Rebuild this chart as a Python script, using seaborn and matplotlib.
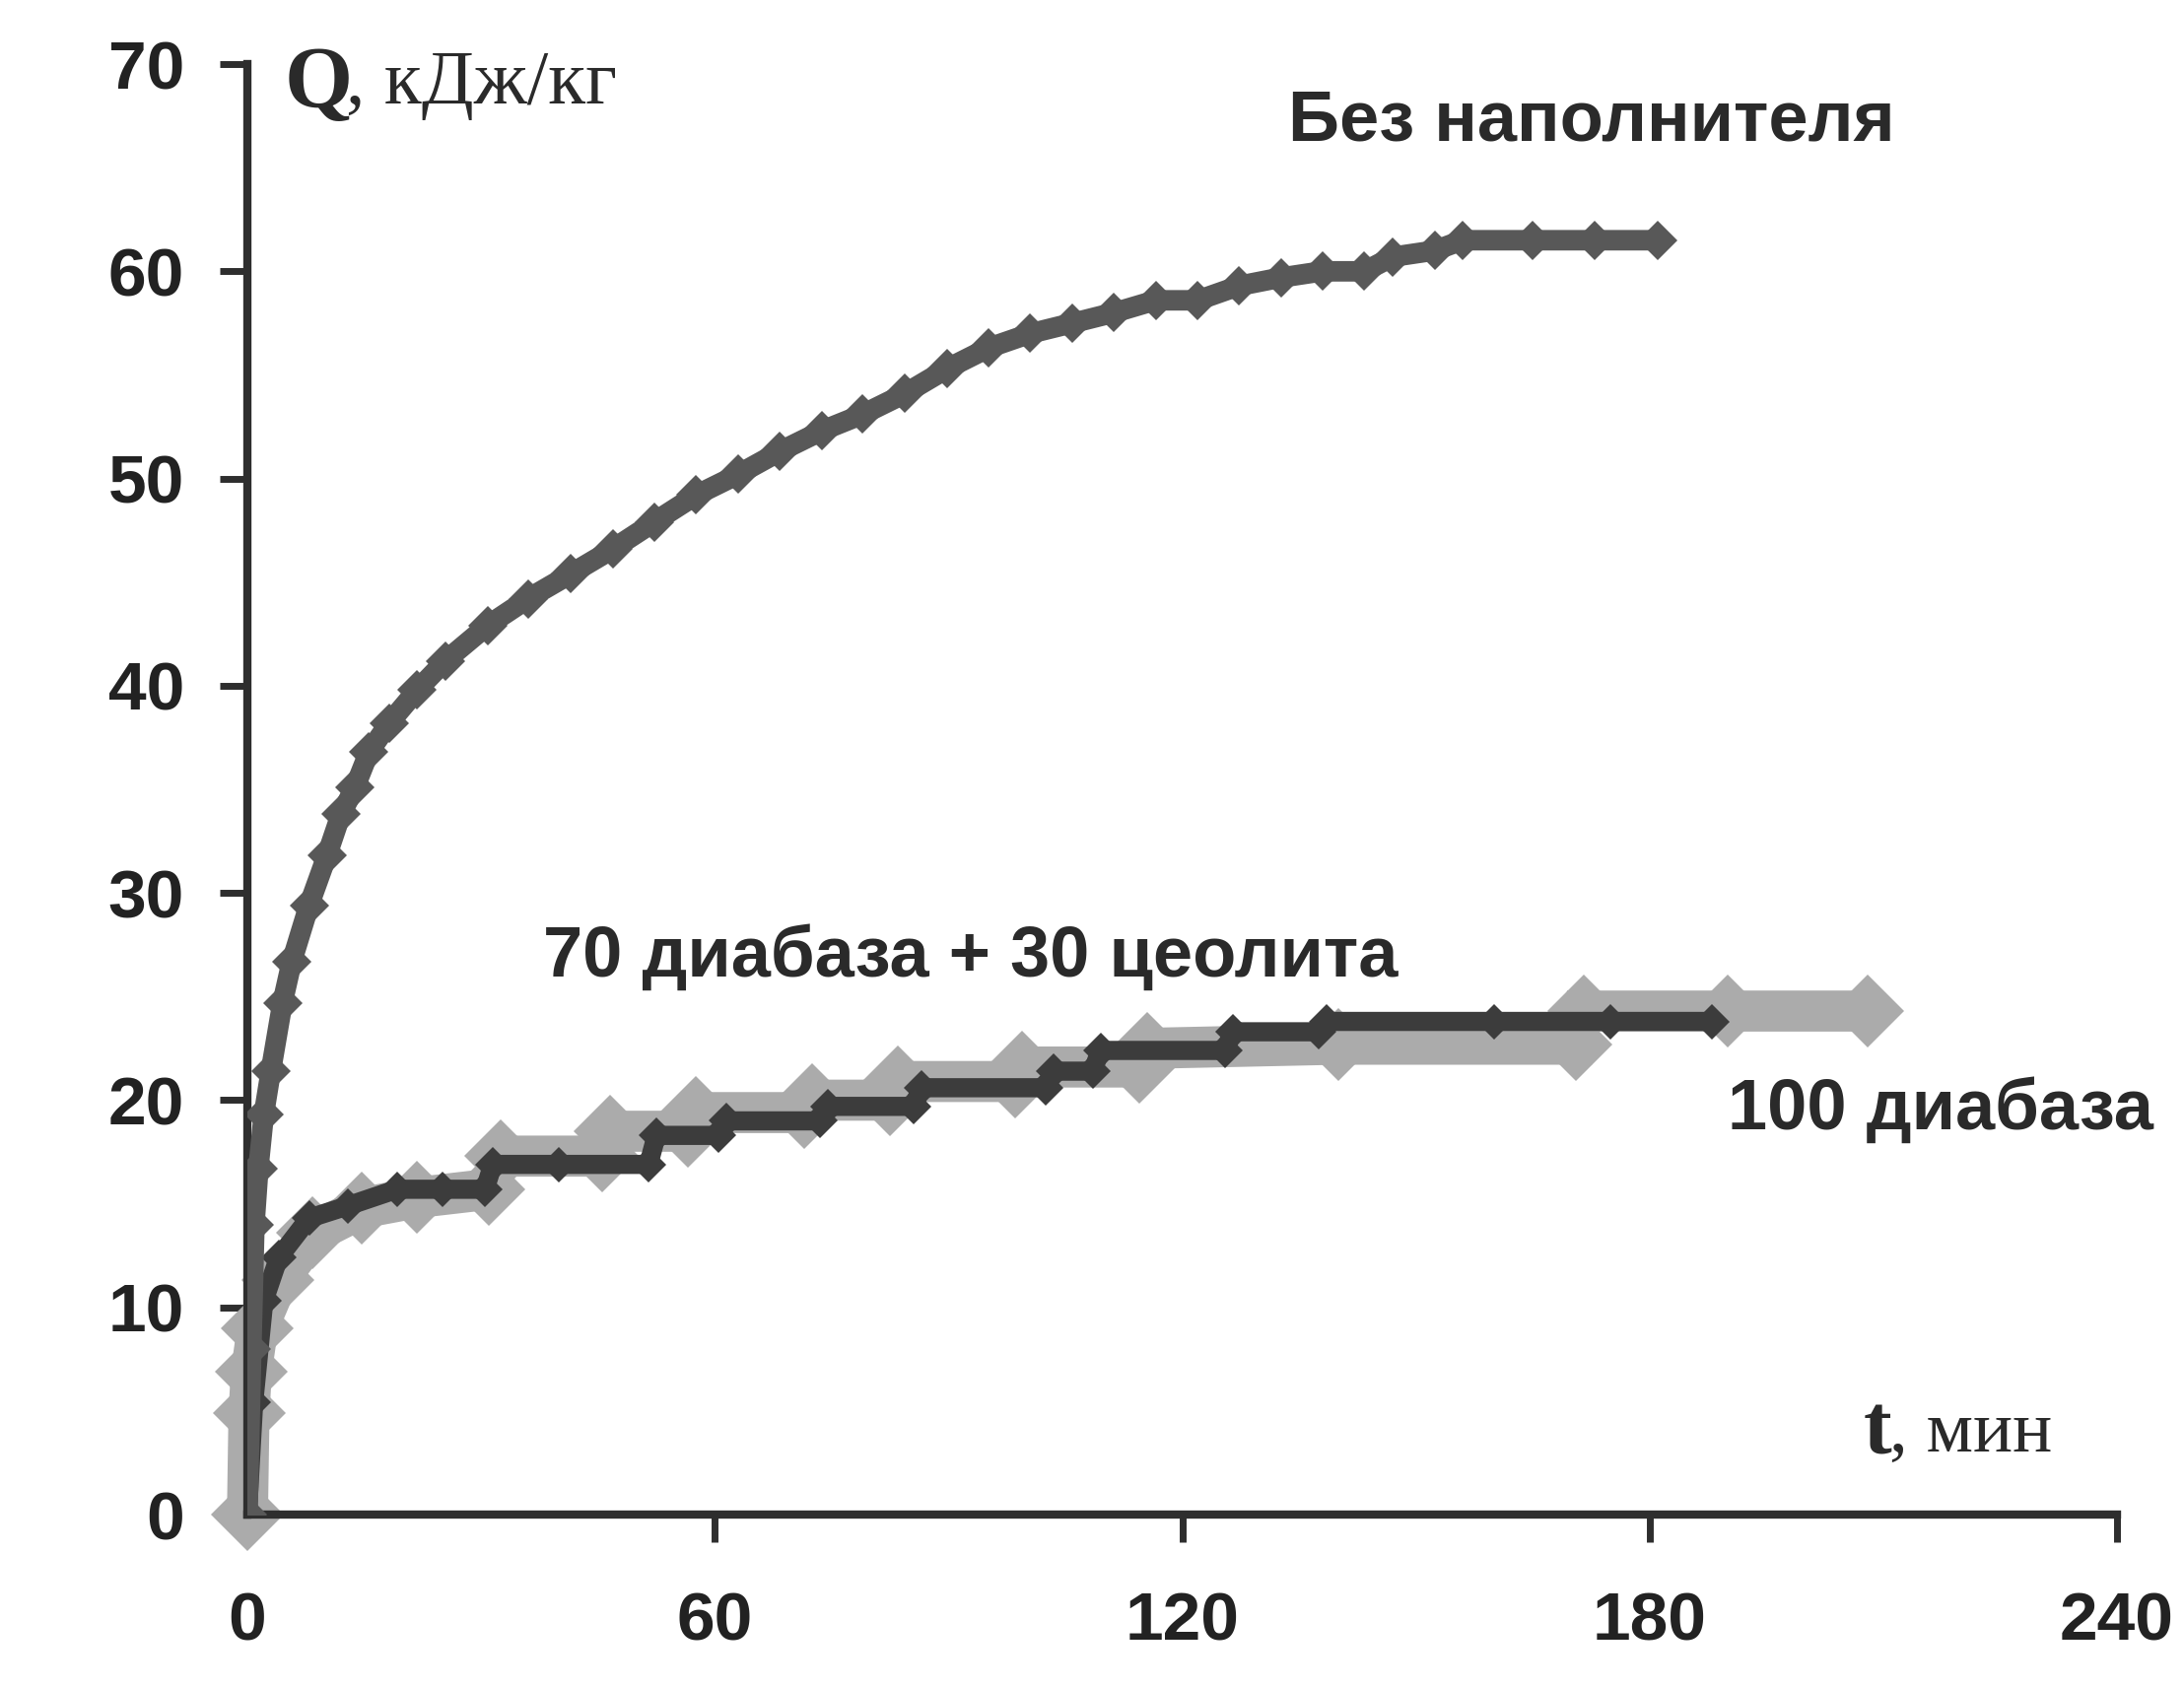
import matplotlib
matplotlib.use("Agg")
import matplotlib.pyplot as plt
import seaborn as sns
import pandas as pd

# Без наполнителя
t_none = [0, 0.5, 0.9, 1.4, 2.1, 3.0, 4.5, 5.7, 7.9, 10.2, 12.0, 13.8, 15.6, 18.2, 21.8, 25.4,
          30.8, 36.0, 41.5, 46.9, 52.2, 57.6, 63.0, 68.3, 73.7, 79.0, 84.4, 89.8, 95.1, 100.5,
          105.9, 111.2, 116.6, 122.0, 127.3, 132.7, 138.0, 143.4, 147.0, 152.4, 156.0, 165.0,
          173.0, 181.0]
q_none = [0, 8.0, 14.0, 16.7, 19.3, 21.4, 24.7, 26.7, 29.4, 31.8, 33.8, 35.1, 36.8, 38.2, 39.8, 41.2,
          42.9, 44.2, 45.4, 46.6, 47.9, 49.2, 50.2, 51.3, 52.3, 53.1, 54.1, 55.3, 56.3, 57.0,
          57.5, 58.0, 58.6, 58.6, 59.3, 59.7, 60.0, 60.0, 60.7, 61.0, 61.5, 61.5,
          61.5, 61.5]

# 70 диабаза + 30 цеолита
t_mix = [0, 0.8, 2.1, 4.0, 7.9, 12.9, 19.2, 25.0, 30.5, 31.5, 40.0, 51.5, 52.5, 60.5, 61.5,
         73.5, 74.5, 85.5, 86.5, 102.5, 103.5, 108.5, 109.5, 125.5, 126.5, 137.5, 138.5,
         160.0, 175.0, 188.0]
q_mix = [0, 5.4, 10.3, 12.4, 14.3, 14.9, 15.7, 15.7, 15.7, 16.9, 16.9, 16.9, 18.3, 18.3, 19.0,
         19.0, 19.7, 19.7, 20.6, 20.6, 21.4, 21.4, 22.4, 22.4, 23.3, 23.3, 23.8,
         23.8, 23.8, 23.8]

# 100 диабаза
t_dia = [0, 0.2, 0.5, 1.3, 3.9, 8.4, 14.7, 21.8, 31.0, 32.5, 45.5, 46.5, 56.5, 57.5, 71.5, 72.5,
         82.5, 83.5, 98.5, 99.5, 114.5, 115.5, 140.0, 170.5, 171.5, 190.0, 208.0]
q_dia = [0, 4.9, 6.9, 9.0, 11.3, 13.6, 14.8, 15.3, 15.7, 17.3, 17.3, 18.5, 18.5, 19.4, 19.4, 20.0,
         20.0, 20.9, 20.9, 21.6, 21.6, 22.5, 22.7, 22.7, 24.3, 24.3, 24.3]

x_ticks = [0, 60, 120, 180, 240]
y_ticks = [0, 10, 20, 30, 40, 50, 60, 70]

sns.set_style("ticks")
plt.rcParams["font.family"] = ["Liberation Sans", "DejaVu Sans"]

fig = plt.figure(figsize=(22.16, 17.12), dpi=100)
ax = fig.add_axes([0.1133, 0.1022, 0.8560, 0.8598])

df_dia = pd.DataFrame({"t": t_dia, "Q": q_dia})
df_mix = pd.DataFrame({"t": t_mix, "Q": q_mix})
df_none = pd.DataFrame({"t": t_none, "Q": q_none})

sns.lineplot(data=df_dia, x="t", y="Q", ax=ax, color="#ababab", linewidth=30,
             marker="D", markersize=38, markeredgewidth=0, sort=False, estimator=None,
             solid_joinstyle="miter", zorder=2, clip_on=False)
sns.lineplot(data=df_mix, x="t", y="Q", ax=ax, color="#3c3c3c", linewidth=14,
             marker="D", markersize=18, markeredgewidth=0, sort=False, estimator=None, zorder=3)
sns.lineplot(data=df_none, x="t", y="Q", ax=ax, color="#585858", linewidth=15,
             marker="D", markersize=20, markeredgewidth=0, sort=False, estimator=None, zorder=3)

ax.set_xlim(0, 240)
ax.set_ylim(0, 70)
ax.set_xticks(x_ticks)
ax.set_yticks(y_ticks)
ax.set_xlabel("")
ax.set_ylabel("")
sns.despine(ax=ax)
for s in ["left", "bottom"]:
    ax.spines[s].set_linewidth(6)
    ax.spines[s].set_color("#2e2e2e")
ax.tick_params(axis="both", direction="out", length=20, width=5, colors="#2e2e2e",
               labelcolor="#222222")
ax.tick_params(axis="x", pad=36, labelsize=50)
ax.tick_params(axis="y", pad=26, labelsize=50)
for lab in ax.get_xticklabels() + ax.get_yticklabels():
    lab.set_fontweight("bold")

# подписи осей
ax.text(4.8, 69.0, "Q", fontsize=64, fontweight="bold", family="Liberation Serif",
        va="center", ha="left", color="#2a2a2a", clip_on=False)
ax.text(12.6, 69.0, ", кДж/кг", fontsize=56, family="Liberation Serif",
        va="center", ha="left", color="#2a2a2a", clip_on=False)
ax.text(207.5, 3.9, "t", fontsize=62, fontweight="bold", family="Liberation Serif",
        va="center", ha="left", color="#2a2a2a", clip_on=False)
ax.text(210.8, 3.9, ", мин", fontsize=54, family="Liberation Serif",
        va="center", ha="left", color="#2a2a2a", clip_on=False)

# подписи кривых
ax.text(133.6, 67.2, "Без наполнителя", fontsize=52, fontweight="bold",
        va="center", ha="left", color="#2a2a2a")
ax.text(37.9, 26.9, "70 диабаза + 30 цеолита", fontsize=52, fontweight="bold",
        va="center", ha="left", color="#2a2a2a")
ax.text(190.0, 19.5, "100 диабаза", fontsize=52, fontweight="bold",
        va="center", ha="left", color="#2a2a2a", clip_on=False)

fig.savefig("out.png", dpi=100)
